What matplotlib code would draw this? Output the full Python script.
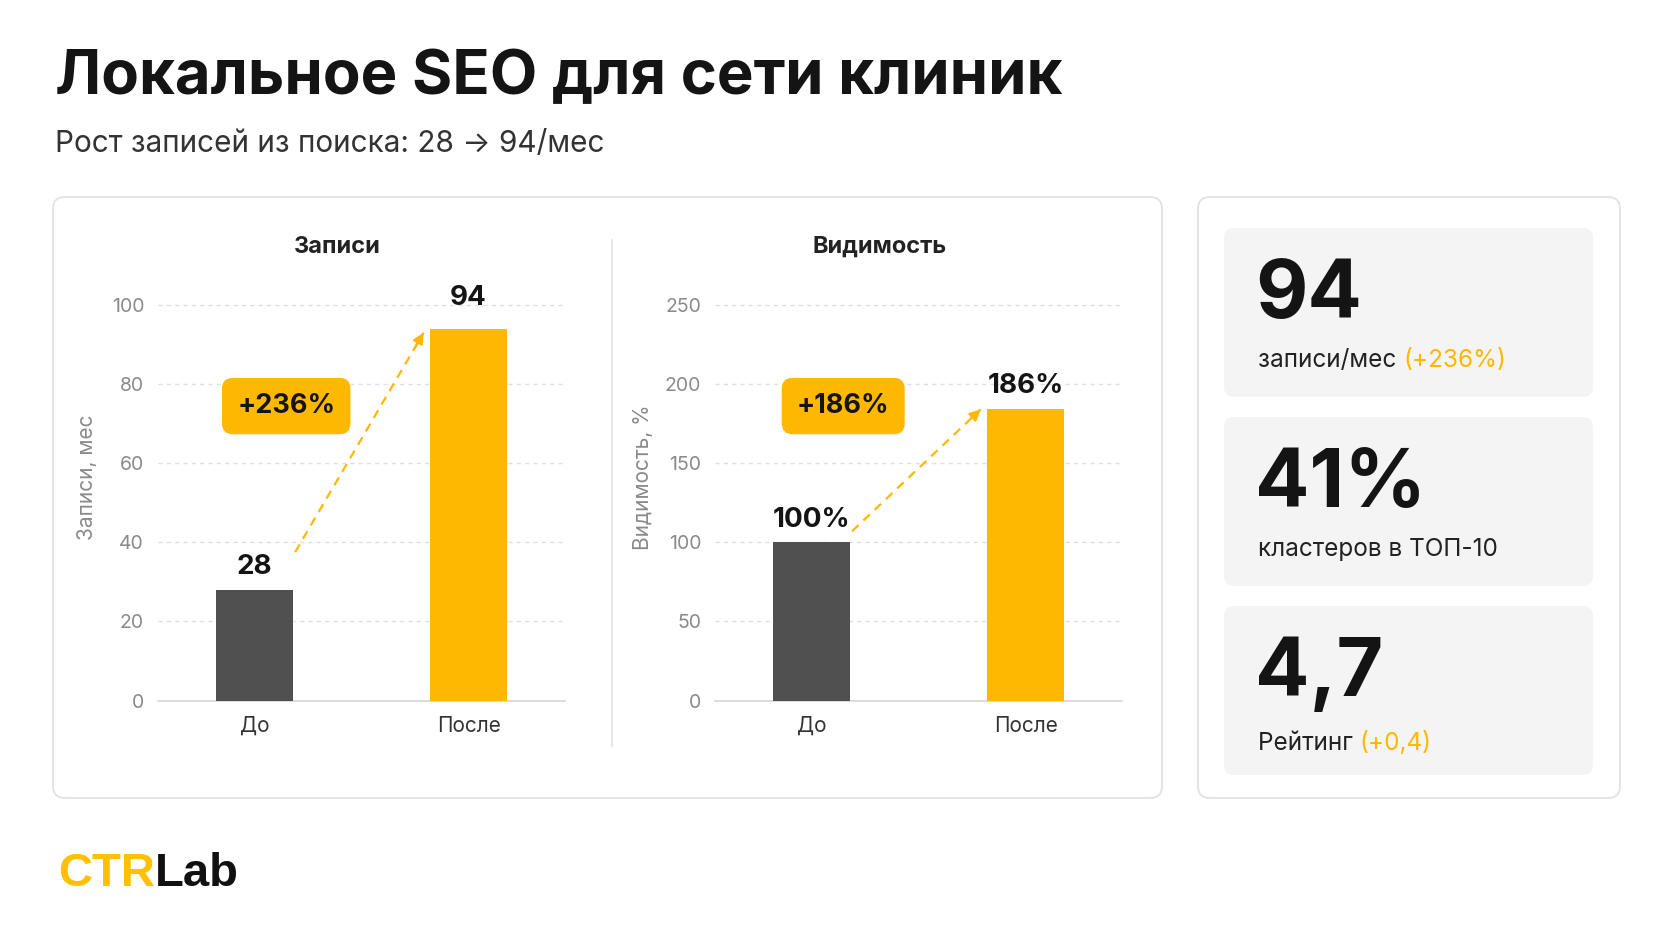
import matplotlib
matplotlib.use('Agg')
import matplotlib.pyplot as plt
from matplotlib.patches import FancyBboxPatch

# ---------------- data ----------------
categories = ['До', 'После']
zapisi = [28, 94]
vidimost = [100, 184]
zapisi_ticks = [0, 20, 40, 60, 80, 100]
vidimost_ticks = [0, 50, 100, 150, 200, 250]
zapisi_labels = ['28', '94']
vidimost_labels = ['100%', '186%']
badges = ['+236%', '+186%']
chart_titles = ['Записи', 'Видимость']
chart_ylabels = ['Записи, мес', 'Видимость, %']
kpi_values = ['94', '41%', '4,7']
kpi_labels = ['записи/мес', 'кластеров в ТОП-10', 'Рейтинг']
kpi_deltas = ['(+236%)', '', '(+0,4)']
title = 'Локальное SEO для сети клиник'
subtitle = 'Рост записей из поиска: 28 → 94/мес'
logo_a, logo_b = 'CTR', 'Lab'

# ---------------- style ----------------
W, H, DPI = 1672, 941, 100
ORANGE = '#FFB800'
LOGO_OR = '#FFC000'
DARK_BAR = '#505050'
TXT = '#141414'
plt.rcParams['font.family'] = ['Inter', 'DejaVu Sans']

fig = plt.figure(figsize=(W / DPI, H / DPI), dpi=DPI)
fig.patch.set_facecolor('white')
bg = fig.add_axes([0, 0, 1, 1])
bg.set_xlim(0, W)
bg.set_ylim(H, 0)
bg.axis('off')


def rbox(x, y, w, h, r, fc, ec='none', lw=0):
    bg.add_patch(FancyBboxPatch((x, y), w, h,
                                boxstyle=f'round,pad=0,rounding_size={r}',
                                fc=fc, ec=ec, lw=lw))


# panels
rbox(53, 197, 1109, 601, 12, 'white', '#e2e2e2', 1.3)
rbox(1198, 197, 422, 601, 12, 'white', '#e2e2e2', 1.3)
card_tops = [228, 417, 606]
card_label_dy = [139, 139, 144]
for t in card_tops:
    rbox(1224, t, 369, 169, 10, '#f4f4f4')

# separator
bg.plot([612, 612], [240, 746], color='#e3e3e3', lw=1.3)

# title / subtitle
bg.text(55, 94, title, fontsize=44.4, fontweight='bold', color=TXT, va='baseline')
bg.text(55, 152, subtitle, fontsize=21.4, color='#333333', va='baseline')

# ---------------- charts ----------------
AX_BOTTOM, AX_TOP, AX_W = 700.5, 254.4, 407
charts = [
    dict(left=158, vals=zapisi, ticks=zapisi_ticks, ytop=112.8, labels=zapisi_labels,
         lab_off=[11, 17], title_x=337, ylabel_x=-0.174, arrow=(9.5, -1.0)),
    dict(left=715, vals=vidimost, ticks=vidimost_ticks, ytop=282, labels=vidimost_labels,
         lab_off=[11, 12], title_x=880, ylabel_x=-0.177, arrow=(7.0, 0.0)),
]

for i, c in enumerate(charts):
    ax = fig.add_axes([c['left'] / W, 1 - AX_BOTTOM / H, AX_W / W, (AX_BOTTOM - AX_TOP) / H])
    ax.set_facecolor('none')
    xs = list(range(len(categories)))
    ax.bar(xs, c['vals'], width=0.36, color=[DARK_BAR, ORANGE], zorder=3)
    ax.set_xlim(-0.45, 1.45)
    ax.set_ylim(0, c['ytop'])
    ax.set_yticks(c['ticks'])
    ax.set_xticks(xs, categories)
    ax.tick_params(axis='y', length=0, pad=10, labelsize=14, labelcolor='#8a8a8a')
    ax.tick_params(axis='x', length=0, pad=11, labelsize=15, labelcolor='#333333')
    for s in ['top', 'right', 'left']:
        ax.spines[s].set_visible(False)
    ax.spines['bottom'].set_color('#d9d9d9')
    ax.spines['bottom'].set_linewidth(1.3)
    for t in c['ticks'][1:]:
        ax.axhline(t, color='#e0e0e0', lw=1, ls=(0, (3, 3)), zorder=1)
    for xi, v, lb, off in zip(xs, c['vals'], c['labels'], c['lab_off']):
        ax.annotate(lb, (xi, v), xytext=(0, off), textcoords='offset points',
                    ha='center', va='baseline', fontsize=20, fontweight='bold', color=TXT)
    ax.text(c['ylabel_x'], 0.5, chart_ylabels[i], transform=ax.transAxes, rotation=90,
            ha='center', va='center', fontsize=15, color='#8a8a8a')
    bg.text(c['title_x'], 247, chart_titles[i], ha='center', va='center',
            fontsize=17, fontweight='bold', color='#222222')
    ax.text(0.315, 0.66, badges[i], transform=ax.transAxes, ha='center', va='center',
            fontsize=19.5, fontweight='bold', color=TXT, zorder=6,
            bbox=dict(boxstyle='round,pad=0.56,rounding_size=0.4', fc=ORANGE, ec='none'))
    # dashed arrow
    x0, y0 = 0.19, c['vals'][0] + c['arrow'][0]
    x1, y1 = 0.79, c['vals'][1] + c['arrow'][1]
    ax.plot([x0, x1], [y0, y1], color=ORANGE, lw=1.6, ls=(0, (4, 3)), zorder=4)
    fx = 0.93
    ax.annotate('', xy=(x1, y1), xytext=(x0 + (x1 - x0) * fx, y0 + (y1 - y0) * fx),
                arrowprops=dict(arrowstyle='-|>', color=ORANGE, lw=1.6,
                                mutation_scale=16, shrinkA=0, shrinkB=0), zorder=4)

# ---------------- KPI cards ----------------
for t, dy, val, lab, dl in zip(card_tops, card_label_dy, kpi_values, kpi_labels, kpi_deltas):
    bg.text(1255, t + 90, val, fontsize=58, fontweight='bold', color=TXT, va='baseline')
    t1 = bg.text(1258, t + dy, lab + ' ', fontsize=17.5, color='#222222', va='baseline')
    if dl:
        bg.annotate(dl, xy=(1, t + dy), xycoords=(t1, 'data'), va='baseline', ha='left',
                    fontsize=17.5, color=ORANGE)

# ---------------- logo ----------------
lg = bg.text(58, 886, logo_a, fontsize=34, fontweight='bold', color=LOGO_OR,
             va='baseline', family=['Liberation Sans', 'DejaVu Sans'])
bg.annotate(logo_b, xy=(1, 886), xycoords=(lg, 'data'), va='baseline', ha='left',
            fontsize=34, fontweight='bold', color='#111111', family=['Liberation Sans', 'DejaVu Sans'])

fig.savefig('out.png', dpi=DPI, facecolor='white')
